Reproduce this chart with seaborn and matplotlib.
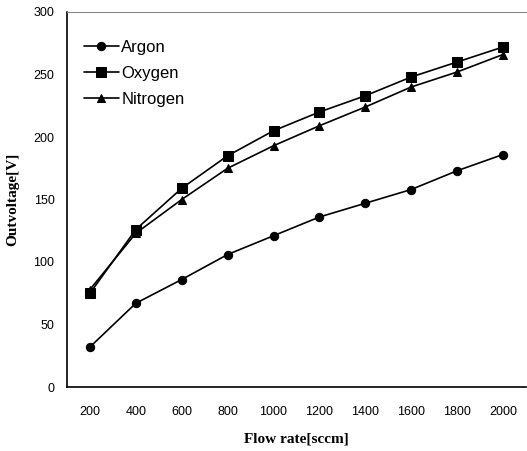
import matplotlib
matplotlib.use("Agg")
import matplotlib.pyplot as plt
import seaborn as sns
import numpy as np
import pandas as pd

flow_rates = [200, 400, 600, 800, 1000, 1200, 1400, 1600, 1800, 2000]
argon = [32, 67, 86, 106, 121, 136, 147, 158, 173, 186]
oxygen = [75, 126, 159, 185, 205, 220, 233, 248, 260, 272]
nitrogen = [78, 123, 150, 175, 193, 209, 224, 240, 252, 266]
series_names = ["Argon", "Oxygen", "Nitrogen"]
y_ticks = [0, 50, 100, 150, 200, 250, 300]

sns.set_style("white")
plt.rcParams['font.family'] = ['Liberation Sans', 'DejaVu Sans']
plt.rcParams['text.color'] = 'black'
plt.rcParams['xtick.color'] = 'black'
plt.rcParams['ytick.color'] = 'black'
plt.rcParams['axes.labelcolor'] = 'black'

fig = plt.figure(figsize=(5.27, 4.51), dpi=100)
ax = fig.add_axes([67/527, 1 - 387/451, 1 - 67/527 - 0.002, (387 - 12)/451])

pos = list(range(len(flow_rates)))
markers = ["o", "s", "^"]
sizes = [6, 6.5, 6]
for name, vals, m, ms in zip(series_names, [argon, oxygen, nitrogen], markers, sizes):
    sns.lineplot(x=pos, y=vals, ax=ax, color="black", marker=m, markersize=ms,
                 markeredgecolor="black", linewidth=1.2, label=name)

ax.set_xlim(-0.5, len(flow_rates) - 0.5)
ax.set_ylim(0, 300)
ax.set_yticks(y_ticks)
ax.set_yticklabels([str(v) for v in y_ticks], fontsize=9)
ax.set_xticks(pos)
ax.set_xticklabels([str(v) for v in flow_rates], fontsize=9)
ax.tick_params(axis="x", which="major", length=0, pad=14)
ax.set_xticks([p + 0.5 for p in pos[:-1]], minor=True)
ax.tick_params(axis="x", which="minor", direction="in", length=4, width=1, color="black")
ax.tick_params(axis="y", which="major", length=0, pad=9)

for s in ["left", "bottom"]:
    ax.spines[s].set_color("black")
    ax.spines[s].set_linewidth(1.2)
ax.spines["top"].set_color("#888888")
ax.spines["top"].set_linewidth(0.8)
ax.spines["top"].set_linestyle((0, (4, 1)))
ax.spines["right"].set_visible(False)

ax.set_xlabel("Flow rate[sccm]", family=["Liberation Serif"], fontsize=11,
              fontweight="bold", labelpad=10)
ax.set_ylabel("Outvoltage[V]", family=["Liberation Serif"], fontsize=11,
              fontweight="bold", labelpad=10)

leg = ax.legend(loc="upper left", frameon=False, fontsize=12, handlelength=2.1,
                handletextpad=0.15, labelspacing=0.65, borderaxespad=0.6,
                bbox_to_anchor=(0.0, 0.97))

fig.savefig("out.png", dpi=100)
